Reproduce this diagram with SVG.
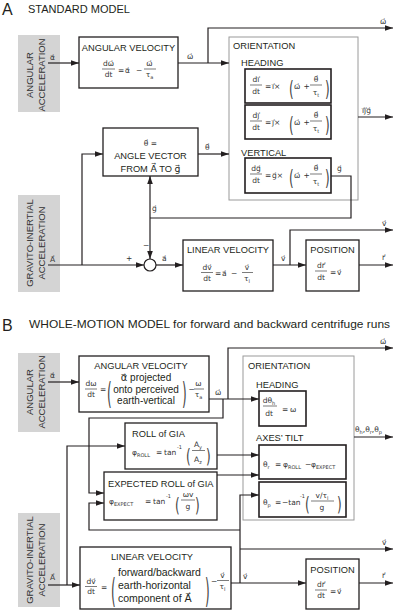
<svg xmlns="http://www.w3.org/2000/svg" width="400" height="612" viewBox="0 0 400 612">
<defs>
<marker id="ah" viewBox="0 0 10 10" refX="10" refY="5" markerWidth="8" markerHeight="8" markerUnits="userSpaceOnUse" orient="auto"><path d="M0,1.5 L10,5 L0,8.5 z" fill="#231f20"/></marker>
<style>
.box{fill:#fff;stroke:#231f20;stroke-width:1.3}
.ibox{fill:#fff;stroke:#231f20;stroke-width:1.6}
.gray{fill:#d4d4d4;stroke:none}
.orient{fill:none;stroke:#9a9a9a;stroke-width:1}
.conn{fill:none;stroke:#231f20;stroke-width:1.2;marker-end:url(#ah)}
.line{fill:none;stroke:#231f20;stroke-width:1.2}
.fb{stroke:#444;stroke-width:0.7}
text{font-family:"Liberation Sans",Arial,sans-serif;fill:#231f20}
.big{font-size:16px}
.hd{font-size:11px}
.tt{font-size:9.3px}
.gt{font-size:9.5px;fill:#333;text-anchor:middle}
.tx{font-size:10px;text-anchor:middle}
.m{font-family:"DejaVu Sans",sans-serif;font-size:7.5px;fill:#333}
.v{font-family:"DejaVu Sans",sans-serif}
.c{text-anchor:middle}
.sb{font-size:5px}
.pr{font-family:"DejaVu Sans",sans-serif;font-size:12px;fill:#444}
</style>
</defs>

<!-- Panel A -->
<g id="title-a">
<text class="big" x="2" y="15">A</text>
<text class="hd" x="28" y="13">STANDARD MODEL</text>
</g>

<g id="a-angular-acceleration">
<rect class="gray" x="18" y="35" width="42" height="77"/>
<text class="gt" x="33" y="75" transform="rotate(-90 33 75)">ANGULAR</text>
<text class="gt" x="45" y="75" transform="rotate(-90 45 75)">ACCELERATION</text>
</g>

<g id="a-angular-velocity">
<rect class="box" x="79" y="37" width="99" height="51"/>
<text class="tt c" x="128.5" y="51">ANGULAR VELOCITY</text>
<text class="m c" x="108.5" y="66">dω⃗</text>
<line class="fb" x1="102" y1="69" x2="115" y2="69"/>
<text class="m c" x="108.5" y="77">dt</text>
<text class="m" x="118" y="73">=</text>
<text class="m" x="125" y="73">α⃗</text>
<text class="m" x="136" y="73">−</text>
<text class="m c" x="149.5" y="66">ω⃗</text>
<line class="fb" x1="144" y1="69" x2="156" y2="69"/>
<text class="m c" x="149.5" y="77">τ<tspan class="sb" dy="1.5">a</tspan></text>
</g>

<g id="a-orientation">
<rect class="orient" x="229" y="37" width="129" height="163"/>
<text class="tt" x="233" y="49">ORIENTATION</text>
<text class="tt" x="241" y="66">HEADING</text>
<text class="tt" x="241" y="156">VERTICAL</text>
<g id="a-heading-i">
<rect class="ibox" x="245" y="69" width="86" height="34"/>
<text class="m c" x="256" y="82">dı⃗</text>
<line class="fb" x1="250" y1="85" x2="262" y2="85"/>
<text class="m c" x="256" y="94">dt</text>
<text class="m" x="265" y="89">=</text>
<text class="m" x="272" y="89">ı⃗×</text>
<text class="pr" transform="translate(289,96) scale(1,1.7)">(</text>
<text class="m" x="294" y="89">ω⃗</text>
<text class="m" x="303.5" y="89">+</text>
<text class="m c" x="316" y="82">θ⃗</text>
<line class="fb" x1="310" y1="85" x2="322" y2="85"/>
<text class="m c" x="316" y="95">τ<tspan class="sb" dy="1.5">t</tspan></text>
<text class="pr" transform="translate(325,96) scale(1,1.7)">)</text>
</g>
<g id="a-heading-j" transform="translate(0,36)">
<rect class="ibox" x="245" y="69" width="86" height="34"/>
<text class="m c" x="256" y="82">dȷ⃗</text>
<line class="fb" x1="250" y1="85" x2="262" y2="85"/>
<text class="m c" x="256" y="94">dt</text>
<text class="m" x="265" y="89">=</text>
<text class="m" x="272" y="89">ȷ⃗×</text>
<text class="pr" transform="translate(289,96) scale(1,1.7)">(</text>
<text class="m" x="294" y="89">ω⃗</text>
<text class="m" x="303.5" y="89">+</text>
<text class="m c" x="316" y="82">θ⃗</text>
<line class="fb" x1="310" y1="85" x2="322" y2="85"/>
<text class="m c" x="316" y="95">τ<tspan class="sb" dy="1.5">t</tspan></text>
<text class="pr" transform="translate(325,96) scale(1,1.7)">)</text>
</g>
<g id="a-vertical-g" transform="translate(0,89)">
<rect class="ibox" x="245" y="69" width="86" height="35"/>
<text class="m c" x="256" y="82">dg⃗</text>
<line class="fb" x1="250" y1="85" x2="262" y2="85"/>
<text class="m c" x="256" y="94">dt</text>
<text class="m" x="265" y="89">=</text>
<text class="m" x="272" y="89">g⃗×</text>
<text class="pr" transform="translate(289,96) scale(1,1.7)">(</text>
<text class="m" x="294" y="89">ω⃗</text>
<text class="m" x="303.5" y="89">+</text>
<text class="m c" x="316" y="82">θ⃗</text>
<line class="fb" x1="310" y1="85" x2="322" y2="85"/>
<text class="m c" x="316" y="95">τ<tspan class="sb" dy="1.5">t</tspan></text>
<text class="pr" transform="translate(325,96) scale(1,1.7)">)</text>
</g>
</g>

<g id="a-angle-vector">
<rect class="box" x="103" y="128" width="95" height="48"/>
<text class="m c" x="150.5" y="146">θ⃗ =</text>
<text class="tt c" x="150.5" y="159">ANGLE VECTOR</text>
<text class="tt c" x="150.5" y="172">FROM <tspan class="v">A⃗</tspan> TO <tspan class="v">g⃗</tspan></text>
</g>

<g id="a-gravito-inertial">
<rect class="gray" x="18" y="195" width="42" height="97"/>
<text class="gt" x="33" y="243" transform="rotate(-90 33 243)">GRAVITO-INERTIAL</text>
<text class="gt" x="45" y="243" transform="rotate(-90 45 243)">ACCELERATION</text>
</g>

<g id="a-sum">
<circle cx="150" cy="265" r="6" fill="#fff" stroke="#231f20" stroke-width="1.2"/>
</g>

<g id="a-linear-velocity">
<rect class="box" x="183" y="240" width="90" height="51"/>
<text class="tt c" x="228" y="253">LINEAR VELOCITY</text>
<text class="m c" x="207" y="270">dv⃗</text>
<line class="fb" x1="201" y1="272.5" x2="213" y2="272.5"/>
<text class="m c" x="207" y="281">dt</text>
<text class="m" x="215" y="276">=</text>
<text class="m" x="222" y="276">a⃗</text>
<text class="m" x="231" y="276">−</text>
<text class="m c" x="247" y="270">v⃗</text>
<line class="fb" x1="242" y1="272.5" x2="253" y2="272.5"/>
<text class="m c" x="247" y="281">τ<tspan class="sb" dy="1.5">l</tspan></text>
</g>

<g id="a-position">
<rect class="box" x="306" y="240" width="53" height="51"/>
<text class="tt c" x="332.5" y="253">POSITION</text>
<text class="m c" x="321" y="268">dr⃗</text>
<line class="fb" x1="315" y1="271" x2="327" y2="271"/>
<text class="m c" x="321" y="280">dt</text>
<text class="m" x="330" y="275">=</text>
<text class="m" x="337" y="275">v⃗</text>
</g>

<g id="a-connectors">
<path class="conn" d="M48,63 H79"/>
<path class="conn" d="M178,63 H229"/>
<path class="conn" d="M208,63 V28 H393"/>
<path class="conn" d="M358,117 H393"/>
<path class="line" d="M331,176 H351 V218 H150"/>
<path class="conn" d="M150,218 V176"/>
<path class="conn" d="M150,218 V259"/>
<path class="conn" d="M48,265 H144"/>
<path class="conn" d="M82,265 V154 H103"/>
<path class="conn" d="M198,154 H229"/>
<path class="conn" d="M156,265 H183"/>
<path class="conn" d="M273,265 H306"/>
<path class="conn" d="M290,265 V230 H393"/>
<path class="conn" d="M359,265 H393"/>
<text class="m" x="50" y="60">α⃗</text>
<text class="m" x="187" y="59">ω⃗</text>
<text class="m" x="380" y="24">ω⃗</text>
<text class="m" x="362" y="113">ı⃗ȷ⃗g⃗</text>
<text class="m" x="337" y="171">g⃗</text>
<text class="m" x="205" y="150">θ⃗</text>
<text class="m" x="152" y="211">g⃗</text>
<text class="m" x="143" y="248">−</text>
<text class="m" x="126" y="261">+</text>
<text class="m" x="50" y="262">A⃗</text>
<text class="m" x="162" y="261">a⃗</text>
<text class="m" x="281" y="261">v⃗</text>
<text class="m" x="382" y="226">v⃗</text>
<text class="m" x="382" y="260">r⃗</text>
</g>

<!-- Panel B -->
<g id="title-b">
<text class="big" x="2" y="331">B</text>
<text class="hd" x="29" y="328" textLength="361" lengthAdjust="spacingAndGlyphs">WHOLE-MOTION MODEL for forward and backward centrifuge runs</text>
</g>

<g id="b-angular-acceleration">
<rect class="gray" x="18" y="353" width="42" height="79"/>
<text class="gt" x="33" y="392" transform="rotate(-90 33 392)">ANGULAR</text>
<text class="gt" x="45" y="392" transform="rotate(-90 45 392)">ACCELERATION</text>
</g>

<g id="b-angular-velocity">
<rect class="box" x="79" y="356" width="130" height="56"/>
<text class="tt c" x="141" y="368.5">ANGULAR VELOCITY</text>
<text class="m c" x="91" y="386">dω</text>
<line class="fb" x1="85" y1="389" x2="97" y2="389"/>
<text class="m c" x="91" y="397">dt</text>
<text class="m" x="100" y="392">=</text>
<text class="pr" transform="translate(107,404) scale(1,2.5)">(</text>
<text class="tx" x="146" y="381"><tspan class="v">α⃗</tspan> projected</text>
<text class="tx" x="146" y="392.5">onto perceived</text>
<text class="tx" x="146" y="404">earth-vertical</text>
<text class="pr" transform="translate(182,404) scale(1,2.5)">)</text>
<text class="m" x="188.5" y="392">−</text>
<text class="m c" x="198.5" y="386">ω</text>
<line class="fb" x1="194" y1="389" x2="204" y2="389"/>
<text class="m c" x="198.5" y="397">τ<tspan class="sb" dy="1.5">a</tspan></text>
</g>

<g id="b-orientation">
<rect class="orient" x="243" y="356" width="111" height="164"/>
<text class="tt" x="248" y="369">ORIENTATION</text>
<text class="tt" x="256" y="388">HEADING</text>
<text class="tt" x="256" y="441">AXES’ TILT</text>
<g id="b-heading">
<rect class="ibox" x="259" y="391" width="47" height="35"/>
<text class="m c" x="269" y="403">dθ<tspan class="sb" dy="1.5">h</tspan></text>
<line class="fb" x1="263" y1="406" x2="277" y2="406"/>
<text class="m c" x="269" y="416">dt</text>
<text class="m" x="282" y="412">=</text>
<text class="m" x="290" y="412">ω</text>
</g>
<g id="b-roll-tilt">
<rect class="ibox" x="259" y="445" width="87" height="34"/>
<text class="m" x="263" y="467">θ<tspan class="sb" dy="1.5">r</tspan></text>
<text class="m" x="275" y="467">=</text>
<text class="m" x="283" y="467">φ<tspan class="sb" dy="1.5">ROLL</tspan></text>
<text class="m" x="305" y="467">−</text>
<text class="m" x="311" y="467">φ<tspan class="sb" dy="1.5">EXPECT</tspan></text>
</g>
<g id="b-pitch-tilt">
<rect class="ibox" x="259" y="482" width="87" height="35"/>
<text class="m" x="263" y="505">θ<tspan class="sb" dy="1.5">p</tspan></text>
<text class="m" x="275" y="505">=</text>
<text class="m" x="282" y="505">−tan</text>
<text class="m" x="300" y="498"><tspan class="sb">-1</tspan></text>
<text class="pr" transform="translate(305,511) scale(1,1.6)">(</text>
<text class="m c" x="322" y="498">v/τ<tspan class="sb" dy="1.5">l</tspan></text>
<line class="fb" x1="311" y1="501" x2="334" y2="501"/>
<text class="m c" x="322" y="510">g</text>
<text class="pr" transform="translate(337,511) scale(1,1.6)">)</text>
</g>
</g>

<g id="b-roll-of-gia">
<rect class="box" x="125" y="423" width="92" height="46"/>
<text class="tt" x="132" y="437">ROLL of GIA</text>
<text class="m" x="132" y="455">φ<tspan class="sb" dy="1.5">ROLL</tspan></text>
<text class="m" x="156" y="455">=</text>
<text class="m" x="164" y="455">tan</text>
<text class="m" x="177" y="449"><tspan class="sb">-1</tspan></text>
<text class="pr" transform="translate(186,463) scale(1,1.6)">(</text>
<text class="m c" x="198" y="447">A<tspan class="sb" dy="1.5">y</tspan></text>
<line class="fb" x1="192" y1="450.5" x2="205" y2="450.5"/>
<text class="m c" x="198" y="462">A<tspan class="sb" dy="1.5">z</tspan></text>
<text class="pr" transform="translate(206,463) scale(1,1.6)">)</text>
</g>

<g id="b-expected-roll">
<rect class="box" x="104" y="472" width="113" height="48"/>
<text class="tt" x="108" y="487">EXPECTED ROLL of GIA</text>
<text class="m" x="109" y="504">φ<tspan class="sb" dy="1.5">EXPECT</tspan></text>
<text class="m" x="145" y="504">=</text>
<text class="m" x="153" y="504">tan</text>
<text class="m" x="166" y="498"><tspan class="sb">-1</tspan></text>
<text class="pr" transform="translate(175,512) scale(1,1.6)">(</text>
<text class="m c" x="188" y="497">ωv</text>
<line class="fb" x1="181" y1="500" x2="195" y2="500"/>
<text class="m c" x="188" y="509">g</text>
<text class="pr" transform="translate(195,512) scale(1,1.6)">)</text>
</g>

<g id="b-gravito-inertial">
<rect class="gray" x="18" y="513" width="42" height="94"/>
<text class="gt" x="33" y="560" transform="rotate(-90 33 560)">GRAVITO-INERTIAL</text>
<text class="gt" x="45" y="560" transform="rotate(-90 45 560)">ACCELERATION</text>
</g>

<g id="b-linear-velocity">
<rect class="box" x="80" y="547" width="151" height="62"/>
<text class="tt c" x="152" y="560">LINEAR VELOCITY</text>
<text class="m c" x="91" y="584">dv⃗</text>
<line class="fb" x1="85" y1="586.5" x2="97" y2="586.5"/>
<text class="m c" x="91" y="594">dt</text>
<text class="m" x="101" y="590">=</text>
<text class="pr" transform="translate(111,603) scale(1,2.8)">(</text>
<text class="tx" x="118" y="576" style="text-anchor:start;font-size:10.5px">forward/backward</text>
<text class="tx" x="118" y="589" style="text-anchor:start;font-size:10.5px">earth-horizontal</text>
<text class="tx" x="118" y="602" style="text-anchor:start;font-size:10.5px">component of <tspan class="v">A⃗</tspan></text>
<text class="pr" transform="translate(205,603) scale(1,2.8)">)</text>
<text class="m" x="211" y="584">−</text>
<text class="m c" x="222.5" y="578">v⃗</text>
<line class="fb" x1="217" y1="580.5" x2="229" y2="580.5"/>
<text class="m c" x="222.5" y="589">τ<tspan class="sb" dy="1.5">l</tspan></text>
</g>

<g id="b-position">
<rect class="box" x="306" y="559" width="53" height="50"/>
<text class="tt c" x="332.5" y="573">POSITION</text>
<text class="m c" x="321" y="587">dr⃗</text>
<line class="fb" x1="315" y1="590" x2="327" y2="590"/>
<text class="m c" x="321" y="598">dt</text>
<text class="m" x="330" y="594">=</text>
<text class="m" x="337" y="594">v⃗</text>
</g>

<g id="b-connectors">
<path class="conn" d="M48,382 H79"/>
<path class="conn" d="M209,399 H259"/>
<path class="conn" d="M228,399 V348 H393"/>
<path class="conn" d="M223,399 V418 H89 V493 H104"/>
<path class="conn" d="M48,585 H80"/>
<path class="conn" d="M67,585 V446 H125"/>
<path class="conn" d="M217,455 H259"/>
<path class="conn" d="M217,475 H259"/>
<path class="conn" d="M231,583 H306"/>
<path class="conn" d="M240,583 V495 H259"/>
<path class="conn" d="M240,549 H393"/>
<path class="conn" d="M240,530 H89 V503 H104"/>
<path class="conn" d="M359,583 H393"/>
<path class="conn" d="M354,437 H393"/>
<text class="m" x="50" y="378">α⃗</text>
<text class="m" x="215" y="395">ω⃗</text>
<text class="m" x="380" y="344">ω⃗</text>
<text class="m" x="355" y="432">θ<tspan class="sb" dy="1.5">h</tspan><tspan dy="-1.5">,θ</tspan><tspan class="sb" dy="1.5">r</tspan><tspan dy="-1.5">,θ</tspan><tspan class="sb" dy="1.5">p</tspan></text>
<text class="m" x="50" y="580">A⃗</text>
<text class="m" x="243" y="579">v⃗</text>
<text class="m" x="382" y="545">v⃗</text>
<text class="m" x="382" y="578">r⃗</text>
</g>
</svg>
